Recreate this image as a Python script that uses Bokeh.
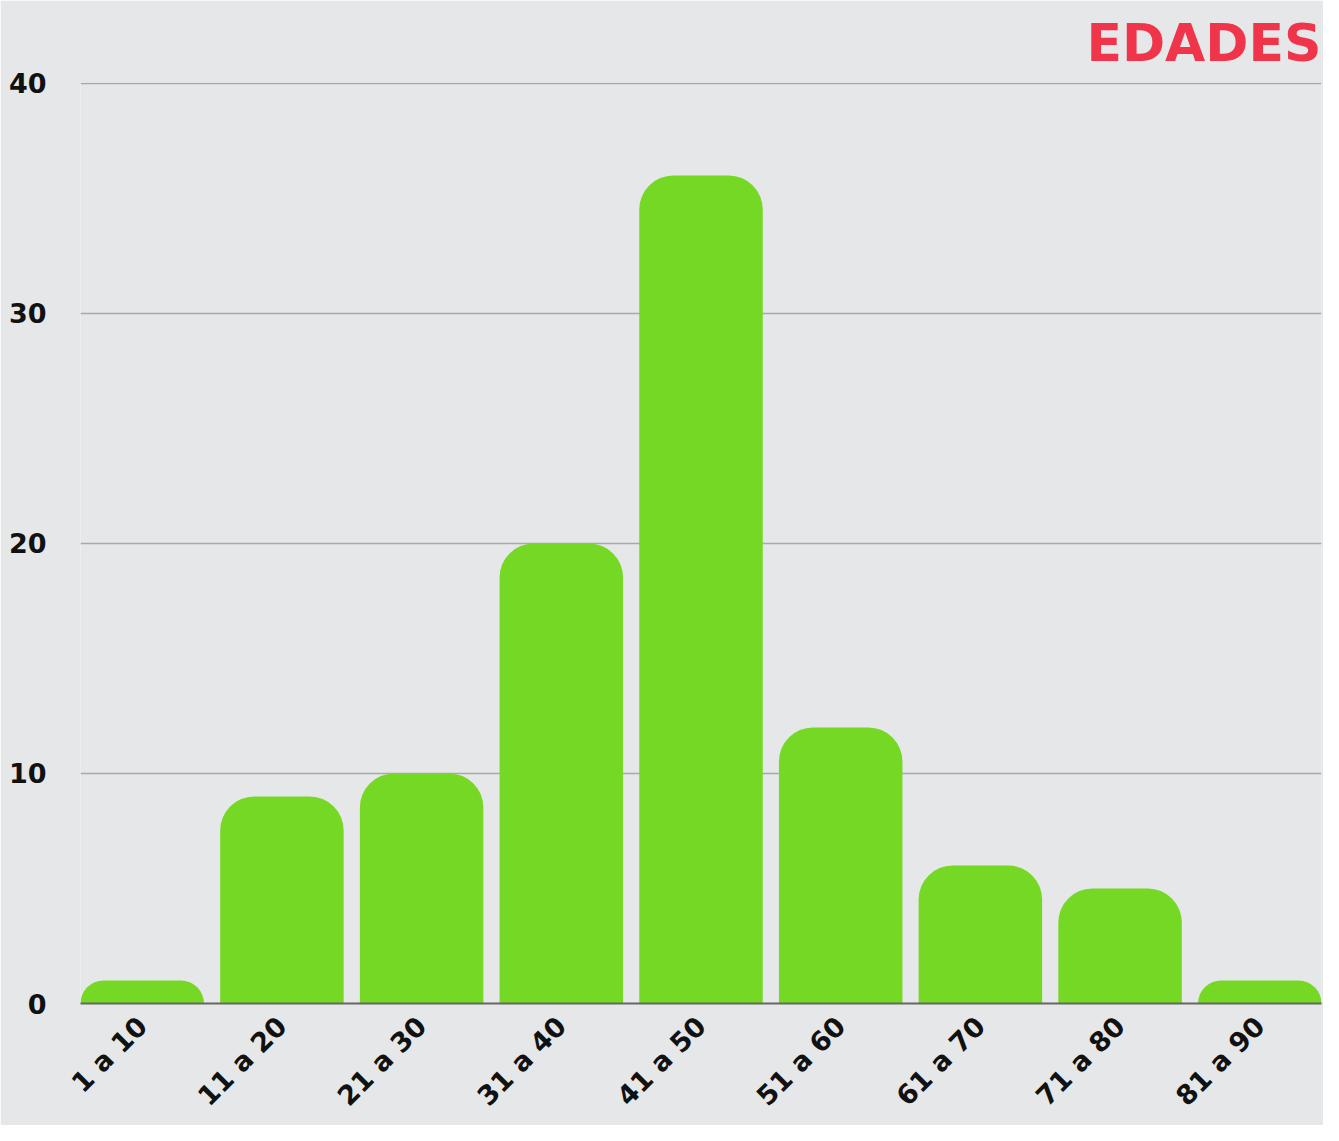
import math
from bokeh.plotting import figure
from bokeh.models import ColumnDataSource, FixedTicker, Range1d
from bokeh.embed import file_html
from bokeh.resources import INLINE

categories = ["1 a 10", "11 a 20", "21 a 30", "31 a 40", "41 a 50",
              "51 a 60", "61 a 70", "71 a 80", "81 a 90"]
counts = [1, 9, 10, 20, 36, 12, 6, 5, 1]
y_ticks = [0, 10, 20, 30, 40]

BAR_W = 0.884
BG = "#e6e7e8"
FONT = "DejaVu Sans"

xs = list(range(len(categories)))
src = ColumnDataSource(dict(x=xs, top=counts))

p = figure(width=1323, height=1125, output_backend="svg", toolbar_location=None,
           x_range=Range1d(-BAR_W / 2, len(categories) - 1 + BAR_W / 2),
           y_range=Range1d(0, 40.04),
           min_border_left=80, min_border_right=2, min_border_top=82,
           min_border_bottom=119)

p.title.text = "EDADES"
p.title.align = "right"
p.title.text_color = "#f0344a"
p.title.text_font = FONT
p.title.text_font_style = "bold"
p.title.text_font_size = "52px"
p.title.text_line_height = 1.0
p.title.offset = 0
p.title.standoff = 20

p.background_fill_color = BG
p.border_fill_color = BG
p.outline_line_color = None

p.vbar(x="x", top="top", bottom=0, width=BAR_W, source=src,
       fill_color="#74d824", line_color=None,
       border_radius=(34, 34, 0, 0))

p.xgrid.grid_line_color = None
p.ygrid.ticker = FixedTicker(ticks=y_ticks[1:])
p.ygrid.grid_line_color = "#a9a9a9"
p.ygrid.grid_line_width = 1.5

p.yaxis.ticker = FixedTicker(ticks=y_ticks)
p.yaxis.axis_line_color = None
p.yaxis.major_tick_line_color = None
p.yaxis.minor_tick_line_color = None
p.yaxis.major_label_text_font = FONT
p.yaxis.major_label_text_font_style = "bold"
p.yaxis.major_label_text_font_size = "27px"
p.yaxis.major_label_text_color = "#111111"
p.yaxis.major_label_standoff = 28

p.xaxis.ticker = FixedTicker(ticks=xs)
p.xaxis.major_label_overrides = {i: c for i, c in enumerate(categories)}
p.xaxis.axis_line_color = "#666666"
p.xaxis.axis_line_width = 2
p.xaxis.major_tick_line_color = None
p.xaxis.minor_tick_line_color = None
p.xaxis.major_label_orientation = math.pi / 4
p.xaxis.major_label_text_font = FONT
p.xaxis.major_label_text_font_style = "bold"
p.xaxis.major_label_text_font_size = "27px"
p.xaxis.major_label_text_color = "#111111"
p.xaxis.major_label_standoff = 12

open("out.html", "w").write(file_html(p, INLINE))
